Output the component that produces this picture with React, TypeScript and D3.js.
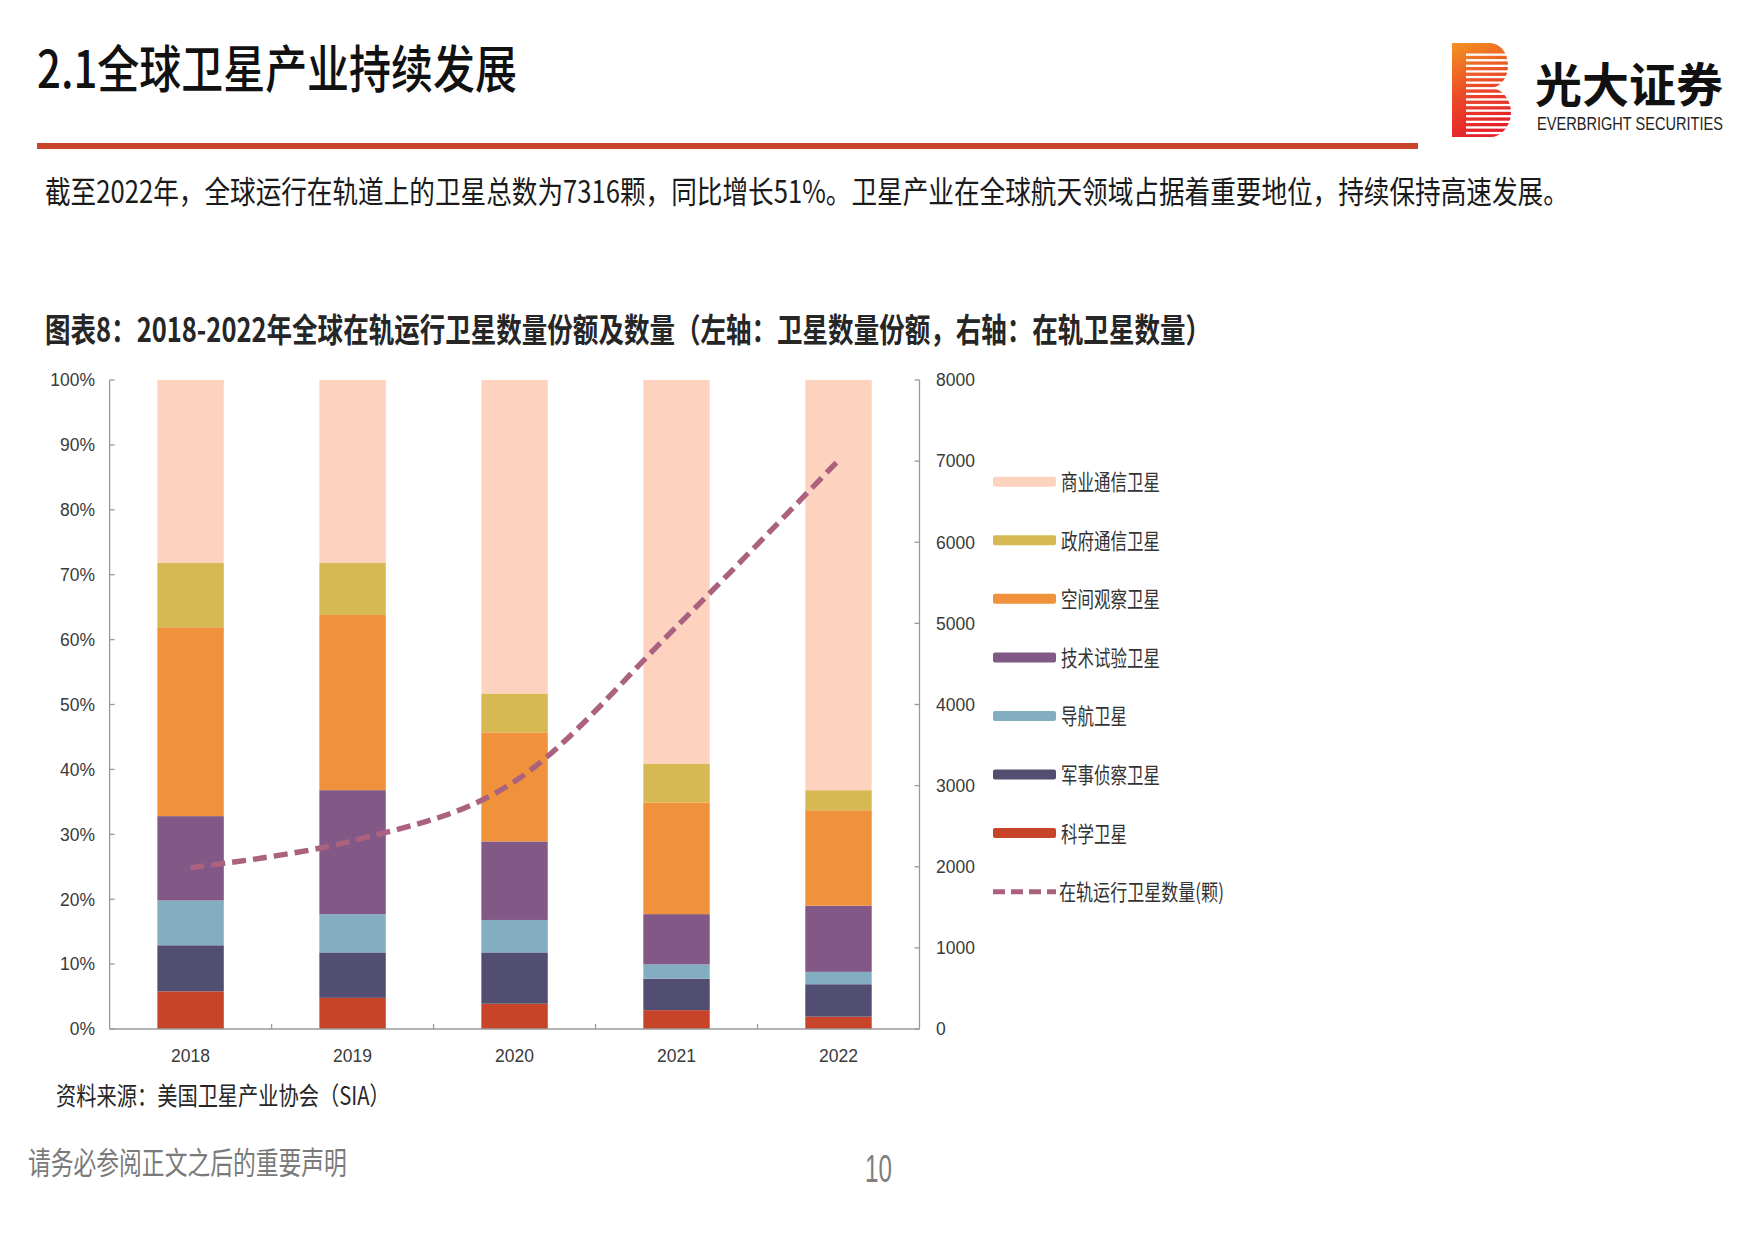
import React, { useLayoutEffect, useRef, useState } from 'react';
import * as d3 from 'd3';

// ---------- data ----------
const years = ['2018', '2019', '2020', '2021', '2022'];
const stackKeys = ['科学卫星', '军事侦察卫星', '导航卫星', '技术试验卫星', '空间观察卫星', '政府通信卫星', '商业通信卫星'];
const science = [5.8, 4.8, 3.9, 2.9, 1.9];
const military = [7.1, 7.0, 7.9, 4.85, 5.0];
const navigation = [6.9, 5.9, 5.0, 2.2, 1.9];
const techTest = [13.0, 19.1, 12.1, 7.75, 10.2];
const spaceObs = [29.1, 27.0, 16.8, 17.2, 14.7];
const govComm = [9.9, 8.0, 6.0, 6.0, 3.1];
const commercial = [28.2, 28.2, 48.3, 59.1, 63.2];
const satelliteCount = [1990, 2320, 3050, 4960, 7010];
const leftTicks = [0, 10, 20, 30, 40, 50, 60, 70, 80, 90, 100];
const rightTicks = [0, 1000, 2000, 3000, 4000, 5000, 6000, 7000, 8000];
const legendOrder = ['商业通信卫星', '政府通信卫星', '空间观察卫星', '技术试验卫星', '导航卫星', '军事侦察卫星', '科学卫星'];
const lineName = '在轨运行卫星数量(颗)';

const colors: Record<string, string> = {
  '商业通信卫星': '#fdd3c0',
  '政府通信卫星': '#d6b952',
  '空间观察卫星': '#f0913b',
  '技术试验卫星': '#825887',
  '导航卫星': '#83aec2',
  '军事侦察卫星': '#524e72',
  '科学卫星': '#c84428',
};
const lineColor = '#aa627f';

const seriesValues: Record<string, number[]> = {
  '科学卫星': science,
  '军事侦察卫星': military,
  '导航卫星': navigation,
  '技术试验卫星': techTest,
  '空间观察卫星': spaceObs,
  '政府通信卫星': govComm,
  '商业通信卫星': commercial,
};

const CJK = '"Noto Sans CJK SC", "Noto Sans", sans-serif';
const LAT = '"Liberation Sans", Arial, sans-serif';

type TProps = { x: number; y: number; w?: number; size: number; fill?: string; weight?: any; family?: string; anchor?: string; children: any };
const T = ({ x, y, w, size, fill = '#222', weight = 'normal', family = CJK, anchor = 'start', children }: TProps) => {
  const ref = useRef<SVGTextElement>(null);
  const [sx, setSx] = useState(1);
  useLayoutEffect(() => {
    if (w && ref.current) {
      const len = ref.current.getComputedTextLength();
      if (len > 0) setSx(w / len);
    }
  }, [w, children, size]);
  return (
    <text
      ref={ref}
      transform={`translate(${x},${y}) scale(${sx},1)`}
      fontSize={size}
      fill={fill}
      fontWeight={weight}
      fontFamily={family}
      textAnchor={anchor}
    >
      {children}
    </text>
  );
};

export default function App() {
  const W = 1754, H = 1240;
  const plotLeft = 109.6, plotRight = 919.5, plotTop = 380, plotBottom = 1029;

  const x = d3.scaleBand<string>().domain(years).range([plotLeft, plotRight]).paddingInner(0.59).paddingOuter(0.295);
  const step = x.step();
  const bw = x.bandwidth();
  const yL = d3.scaleLinear().domain([0, 100]).range([plotBottom, plotTop]);
  const yR = d3.scaleLinear().domain([0, 8000]).range([plotBottom, plotTop]);
  const yFrac = d3.scaleLinear().domain([0, 1]).range([plotBottom, plotTop]);

  const table = years.map((yr, i) => {
    const row: any = { year: yr };
    stackKeys.forEach((k) => (row[k] = seriesValues[k][i]));
    return row;
  });
  const stacked = d3.stack<any>().keys(stackKeys).offset(d3.stackOffsetExpand)(table);

  const linePath = d3
    .line<number>()
    .x((_, i) => (x(years[i]) as number) + bw / 2)
    .y((d) => yR(d))
    .curve(d3.curveCardinal.tension(0))(satelliteCount) as string;

  const axisColor = '#9a9a9a';
  const tickColor = '#3a3a3a';
  const tickSize = 17.5;

  // legend layout
  const legX = 993, legW = 63, legTextX = 1061;
  const legY0 = 481.7, legStep = 58.57;
  const legendTextW: Record<string, number> = {
    '商业通信卫星': 99, '政府通信卫星': 99, '空间观察卫星': 99, '技术试验卫星': 99,
    '导航卫星': 66, '军事侦察卫星': 99, '科学卫星': 66,
  };

  // logo stripes
  const stripeYs = d3.range(53.5, 134, 5.6);

  return (
    <svg width={W} height={H} style={{ position: 'absolute', left: 0, top: 0, display: 'block', background: '#fff' }}>
      <defs>
        <linearGradient id="logoGrad" x1="0" y1="0" x2="0.3" y2="1">
          <stop offset="0" stopColor="#f29420" />
          <stop offset="0.55" stopColor="#ec4a27" />
          <stop offset="1" stopColor="#e5222b" />
        </linearGradient>
      </defs>
      <rect x={0} y={0} width={W} height={H} fill="#fff" />

      {/* header */}
      <T x={37} y={88} w={480} size={51} weight={500} fill="#111">2.1全球卫星产业持续发展</T>
      <rect x={37} y={143} width={1381} height={6} fill="#c8452b" />

      {/* logo */}
      <g>
        <path d="M1452 43 H1490 A18 22.5 0 0 1 1490 88 A21 24.5 0 0 1 1490 137 H1452 Z" fill="url(#logoGrad)" />
        {stripeYs.map((sy, i) => (
          <rect key={i} x={1466} y={sy} width={50} height={2.3} fill="#fff" />
        ))}
      </g>
      <T x={1535} y={102} w={188} size={47} weight="bold" fill="#111">光大证券</T>
      <T x={1537} y={130} w={186} size={19} weight={500} family={LAT} fill="#222">EVERBRIGHT SECURITIES</T>

      <T x={45} y={203} w={1524} size={31} fill="#1a1a1a">截至2022年，全球运行在轨道上的卫星总数为7316颗，同比增长51%。卫星产业在全球航天领域占据着重要地位，持续保持高速发展。</T>

      <T x={45} y={342} w={1166} size={33} weight="bold" fill="#262626">图表8：2018-2022年全球在轨运行卫星数量份额及数量（左轴：卫星数量份额，右轴：在轨卫星数量）</T>

      {/* bars */}
      <g>
        {stacked.map((s) => (
          <g key={s.key} fill={colors[s.key]}>
            {s.map((d, i) => (
              <rect
                key={i}
                x={x(years[i]) as number}
                y={yFrac(d[1])}
                width={bw}
                height={yFrac(d[0]) - yFrac(d[1])}
              />
            ))}
          </g>
        ))}
      </g>

      {/* axes */}
      <g stroke={axisColor} strokeWidth={1.3} fill="none">
        <line x1={plotLeft} y1={plotTop} x2={plotLeft} y2={plotBottom} />
        <line x1={plotRight} y1={plotTop} x2={plotRight} y2={plotBottom} />
        <line x1={plotLeft} y1={plotBottom} x2={plotRight} y2={plotBottom} />
        {leftTicks.map((t) => (
          <line key={'l' + t} x1={plotLeft} x2={plotLeft + 5} y1={yL(t)} y2={yL(t)} />
        ))}
        {rightTicks.map((t) => (
          <line key={'r' + t} x1={plotRight - 5} x2={plotRight} y1={yR(t)} y2={yR(t)} />
        ))}
        {years.slice(1).map((yr) => (
          <line key={'x' + yr} x1={(x(yr) as number) - (step - bw) / 2} x2={(x(yr) as number) - (step - bw) / 2} y1={plotBottom} y2={plotBottom - 5} />
        ))}
      </g>

      {leftTicks.map((t) => (
        <T key={'lt' + t} x={95} y={yL(t) + 6.3} size={tickSize} family={LAT} fill={tickColor} anchor="end">{t + '%'}</T>
      ))}
      {rightTicks.map((t) => (
        <T key={'rt' + t} x={936} y={yR(t) + 6.3} size={tickSize} family={LAT} fill={tickColor}>{String(t)}</T>
      ))}
      {years.map((yr) => (
        <T key={'xt' + yr} x={(x(yr) as number) + bw / 2} y={1062} size={tickSize} family={LAT} fill={tickColor} anchor="middle">{yr}</T>
      ))}

      {/* line */}
      <path d={linePath} fill="none" stroke={lineColor} strokeWidth={5.4} strokeDasharray="14 7" />

      {/* legend */}
      {legendOrder.map((k, i) => {
        const cy = legY0 + i * legStep;
        return (
          <g key={k}>
            <rect x={legX} y={cy - 5} width={legW} height={10} rx={2} fill={colors[k]} />
            <T x={legTextX} y={cy + 8.4} w={legendTextW[k]} size={22} fill="#333">{k}</T>
          </g>
        );
      })}
      {(() => {
        const cy = legY0 + legendOrder.length * legStep;
        return (
          <g>
            <line x1={legX} x2={legX + legW} y1={cy} y2={cy} stroke={lineColor} strokeWidth={5} strokeDasharray="12 6" strokeLinecap="butt" />
            <T x={legTextX - 2} y={cy + 8.4} w={165} size={22} fill="#333">{lineName}</T>
          </g>
        );
      })()}

      {/* source & footer */}
      <T x={56} y={1105} w={334} size={25} fill="#262626">资料来源：美国卫星产业协会（SIA）</T>
      <T x={28} y={1174} w={319} size={31} fill="#7a7a7a">请务必参阅正文之后的重要声明</T>
      <T x={865} y={1182} w={27} size={38} weight={300} family={LAT} fill="#7f7f7f">10</T>
    </svg>
  );
}
